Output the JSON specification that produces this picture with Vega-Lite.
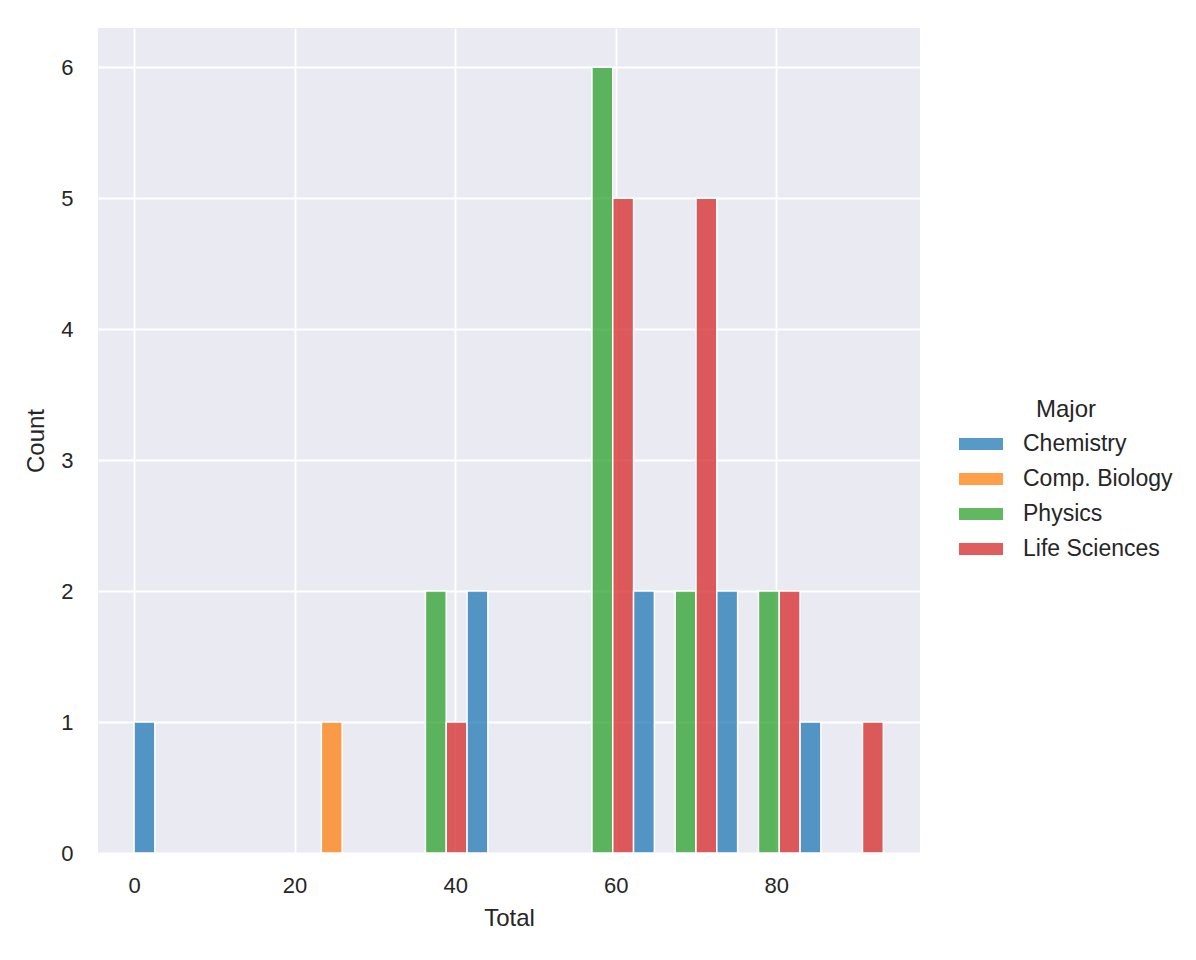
{
  "$schema": "https://vega.github.io/schema/vega-lite/v6.json",
  "width": 822,
  "height": 825,
  "autosize": "none",
  "padding": {"left": 98, "top": 28, "right": 276, "bottom": 107},
  "background": "white",
  "config": {
    "view": {"fill": "#EAEAF2", "stroke": null},
    "font": "Liberation Sans",
    "axis": {
      "domain": false, "ticks": false, "grid": true, "gridColor": "white", "gridWidth": 1.8,
      "labelFontSize": 22, "labelColor": "#262626", "titleFontSize": 24, "titleColor": "#262626",
      "titleFontWeight": "normal"
    },
    "legend": {"labelFontSize": 23, "titleFontSize": 24, "labelColor": "#262626", "titleColor": "#262626", "titleFontWeight": "normal"}
  },
  "data": {
    "values": [
      {"Major": "Chemistry", "slot": 0, "bin_start": 0, "bin_end": 10.37, "Count": 1},
      {"Major": "Comp. Biology", "slot": 1, "bin_start": 20.74, "bin_end": 31.11, "Count": 1},
      {"Major": "Physics", "slot": 2, "bin_start": 31.11, "bin_end": 41.48, "Count": 2},
      {"Major": "Life Sciences", "slot": 3, "bin_start": 31.11, "bin_end": 41.48, "Count": 1},
      {"Major": "Chemistry", "slot": 0, "bin_start": 41.48, "bin_end": 51.85, "Count": 2},
      {"Major": "Physics", "slot": 2, "bin_start": 51.85, "bin_end": 62.22, "Count": 6},
      {"Major": "Life Sciences", "slot": 3, "bin_start": 51.85, "bin_end": 62.22, "Count": 5},
      {"Major": "Chemistry", "slot": 0, "bin_start": 62.22, "bin_end": 72.59, "Count": 2},
      {"Major": "Physics", "slot": 2, "bin_start": 62.22, "bin_end": 72.59, "Count": 2},
      {"Major": "Life Sciences", "slot": 3, "bin_start": 62.22, "bin_end": 72.59, "Count": 5},
      {"Major": "Chemistry", "slot": 0, "bin_start": 72.59, "bin_end": 82.96, "Count": 2},
      {"Major": "Physics", "slot": 2, "bin_start": 72.59, "bin_end": 82.96, "Count": 2},
      {"Major": "Life Sciences", "slot": 3, "bin_start": 72.59, "bin_end": 82.96, "Count": 2},
      {"Major": "Chemistry", "slot": 0, "bin_start": 82.96, "bin_end": 93.33, "Count": 1},
      {"Major": "Life Sciences", "slot": 3, "bin_start": 82.96, "bin_end": 93.33, "Count": 1}
    ]
  },
  "transform": [
    {"calculate": "datum.bin_start + datum.slot * (datum.bin_end - datum.bin_start) / 4", "as": "x0"},
    {"calculate": "datum.bin_start + (datum.slot + 1) * (datum.bin_end - datum.bin_start) / 4", "as": "x1"}
  ],
  "mark": {"type": "bar", "stroke": "white", "strokeWidth": 1.5, "fillOpacity": 0.75},
  "encoding": {
    "x": {"field": "x0", "type": "quantitative", "title": "Total",
      "scale": {"domain": [-4.49, 97.9], "nice": false, "zero": false},
      "axis": {"values": [0, 20, 40, 60, 80], "labelPadding": 22, "titlePadding": 10}},
    "x2": {"field": "x1"},
    "y": {"field": "Count", "type": "quantitative", "title": "Count",
      "scale": {"domain": [0, 6.3], "nice": false},
      "axis": {"values": [0, 1, 2, 3, 4, 5, 6], "labelPadding": 25, "titlePadding": 12}},
    "y2": {"datum": 0},
    "color": {"field": "Major", "type": "nominal",
      "scale": {"domain": ["Chemistry", "Comp. Biology", "Physics", "Life Sciences"],
        "range": ["#1f77b4", "#ff7f0e", "#2ca02c", "#d62728"]},
      "legend": {"orient": "none", "legendX": 861, "legendY": 370, "title": "Major",
        "symbolType": "M-1,-0.27L1,-0.27L1,0.27L-1,0.27Z", "symbolSize": 1936,
        "symbolOpacity": 0.75, "symbolStrokeWidth": 0, "labelOffset": 20, "rowPadding": 1,
        "titleAnchor": "middle", "titlePadding": 0}}
  }
}
